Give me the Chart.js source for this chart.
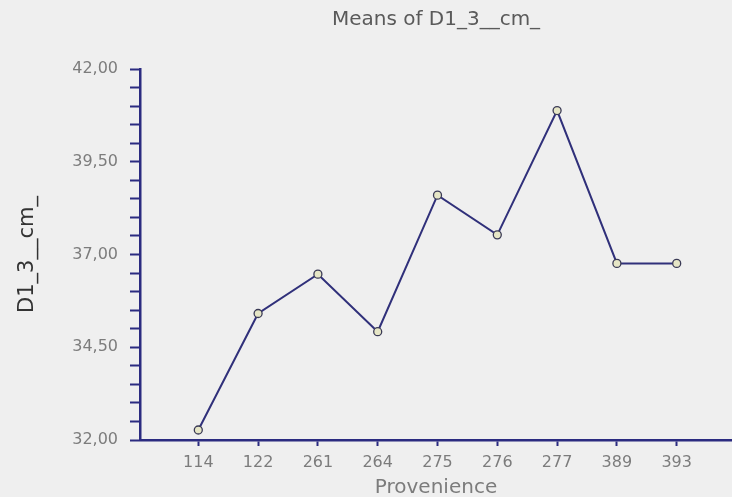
<!DOCTYPE html>
<html>
<head>
<meta charset="utf-8">
<script src="https://cdn.jsdelivr.net/npm/chart.js@4.4.1/dist/chart.umd.min.js"></script>
<style>
    html, body { margin: 0; padding: 0; background: #efefef; }
    #wrap { width: 732px; height: 497px; position: relative; }
</style>
</head>
<body>
<div id="wrap"><canvas id="meansChart"></canvas></div>
<script>
// Provenience categories and mean values of D1_3__cm_
const categories = ['114', '122', '261', '264', '275', '276', '277', '389', '393'];
const meanValues = [32.27, 35.41, 36.47, 34.92, 38.60, 37.53, 40.88, 36.76, 36.76];
const yLabeledTicks = [32.0, 34.5, 37.0, 39.5, 42.0];
const chartTitle = 'Means of D1_3__cm_';

const axisColor = '#2b2b80';
const labelColor = '#7c7c7c';
const fontFamily = 'DejaVu Sans';

// Title centred over the plot area (not the whole canvas)
const areaTitle = {
    id: 'areaTitle',
    afterDraw(chart) {
        const { ctx, chartArea } = chart;
        ctx.save();
        ctx.font = `20px "${fontFamily}"`;
        ctx.fillStyle = '#5a5a5a';
        ctx.textAlign = 'center';
        ctx.textBaseline = 'middle';
        ctx.fillText(chartTitle, (chartArea.left + chartArea.right) / 2, 20);
        ctx.restore();
    }
};

document.addEventListener('DOMContentLoaded', function() {
    const ctx = document.getElementById('meansChart').getContext('2d');

    new Chart(ctx, {
        type: 'line',
        data: {
            datasets: [{
                label: 'Mean',
                data: meanValues.map((v, i) => ({ x: i, y: v })),
                borderColor: '#30307a',
                borderWidth: 2,
                tension: 0,
                pointRadius: 4,
                pointBorderWidth: 1.3,
                pointBorderColor: '#3a3a55',
                pointBackgroundColor: '#e6e6c6',
                clip: false
            }]
        },
        plugins: [areaTitle],
        options: {
            responsive: true,
            maintainAspectRatio: false,
            animation: false,
            layout: {
                autoPadding: false,
                padding: { top: 69, left: 0, right: 0, bottom: 0 }
            },
            plugins: {
                legend: { display: false },
                tooltip: { enabled: false },
                title: { display: false }
            },
            scales: {
                x: {
                    type: 'linear',
                    min: -0.975,
                    max: 8.925,
                    afterBuildTicks: scale => {
                        scale.ticks = categories.map((c, i) => ({ value: i }));
                    },
                    afterFit: scale => {
                        scale.height = 57;
                        scale.paddingLeft = 0;
                        scale.paddingRight = 0;
                    },
                    border: { display: true, color: axisColor, width: 2.5 },
                    grid: {
                        drawOnChartArea: false,
                        drawTicks: true,
                        tickLength: 6,
                        tickWidth: 2,
                        color: axisColor
                    },
                    ticks: {
                        autoSkip: false,
                        maxRotation: 0,
                        padding: 7,
                        color: labelColor,
                        font: { family: fontFamily, size: 16 },
                        callback: value => categories[value] ?? ''
                    },
                    title: {
                        display: true,
                        text: 'Provenience',
                        color: labelColor,
                        font: { family: fontFamily, size: 20 },
                        padding: { top: 0, bottom: -3 }
                    }
                },
                y: {
                    type: 'linear',
                    min: 32,
                    max: 42,
                    afterFit: scale => { scale.width = 140; },
                    border: { display: true, color: axisColor, width: 2.5 },
                    grid: {
                        drawOnChartArea: false,
                        drawTicks: true,
                        tickLength: 10,
                        tickWidth: 2,
                        color: axisColor
                    },
                    ticks: {
                        stepSize: 0.5,
                        autoSkip: false,
                        padding: 12,
                        color: labelColor,
                        font: { family: fontFamily, size: 16 },
                        callback: value => yLabeledTicks.some(t => Math.abs(t - value) < 1e-6)
                            ? value.toFixed(2).replace('.', ',')
                            : ''
                    },
                    title: {
                        display: true,
                        text: 'D1_3__cm_',
                        color: '#333333',
                        font: { family: fontFamily, size: 21 },
                        padding: { top: 15, bottom: 0 }
                    }
                }
            }
        }
    });
});
</script>
</body>
</html>
